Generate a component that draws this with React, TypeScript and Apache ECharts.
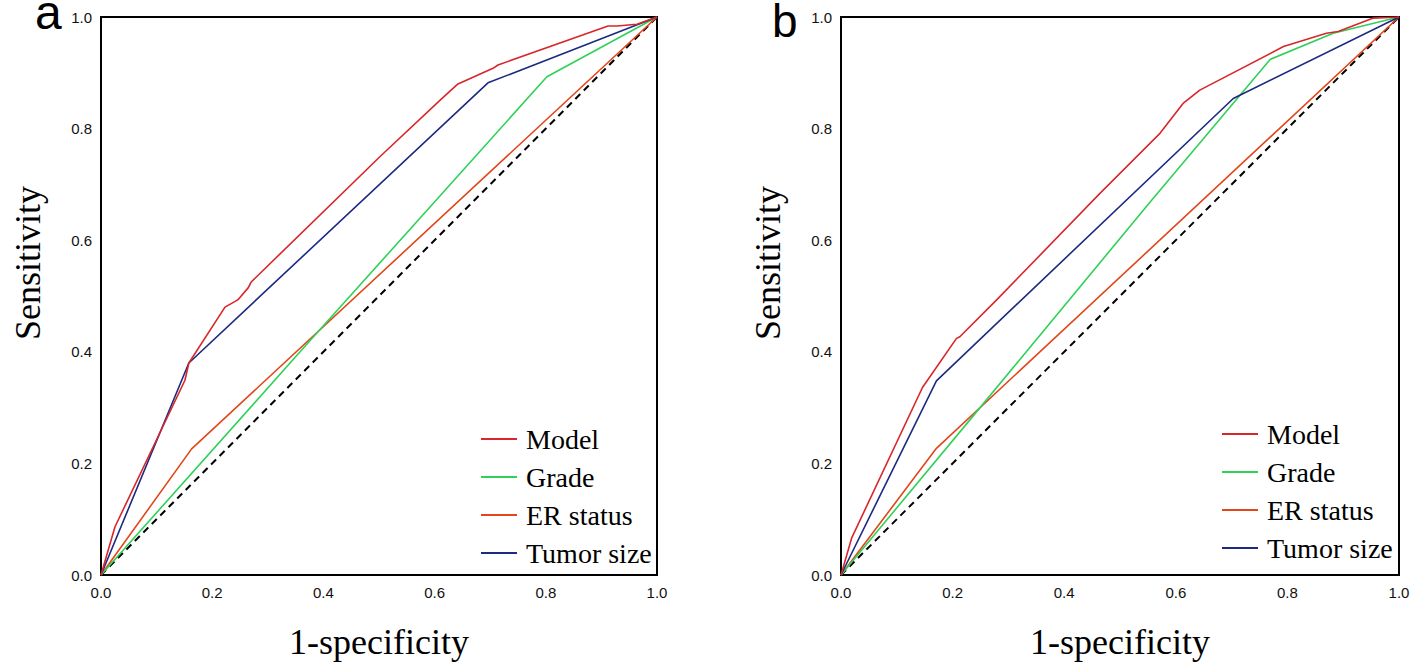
import React, { useEffect, useRef } from "react";
import * as echarts from "echarts";

// Panel a (ROC curves)
const fprAModel = [0, 0.025, 0.151, 0.158, 0.223, 0.246, 0.265, 0.27, 0.502, 0.61, 0.642, 0.705, 0.714, 0.912, 0.928, 0.964, 1];
const tprAModel = [0, 0.086, 0.349, 0.38, 0.48, 0.493, 0.515, 0.525, 0.75, 0.851, 0.88, 0.908, 0.914, 0.984, 0.984, 0.987, 1];
const fprAGrade = [0, 0.358, 0.802, 1];
const tprAGrade = [0, 0.4, 0.893, 1];
const fprAER = [0, 0.163, 1];
const tprAER = [0, 0.226, 1];
const fprATumor = [0, 0.158, 0.696, 1];
const tprATumor = [0, 0.38, 0.882, 1];

// Panel b (ROC curves)
const fprBModel = [0, 0.019, 0.146, 0.207, 0.213, 0.279, 0.464, 0.572, 0.613, 0.643, 0.793, 0.87, 0.891, 0.954, 1];
const tprBModel = [0, 0.066, 0.336, 0.424, 0.427, 0.493, 0.684, 0.792, 0.845, 0.869, 0.947, 0.971, 0.974, 0.998, 1];
const fprBGrade = [0, 0.231, 0.557, 0.769, 0.882, 1];
const tprBGrade = [0, 0.278, 0.672, 0.924, 0.971, 1];
const fprBER = [0, 0.171, 1];
const tprBER = [0, 0.227, 1];
const fprBTumor = [0, 0.171, 0.703, 1];
const tprBTumor = [0, 0.348, 0.854, 1];

const diagX = [0, 1];
const diagY = [0, 1];

const seriesNames = ["Model", "Grade", "ER status", "Tumor size"];
const seriesColors = ["#d8262a", "#2fd158", "#e2461a", "#1c2a82"];
const panelLetters = ["a", "b"];
const xTitle = "1-specificity";
const yTitle = "Sensitivity";

const zip = (xs: number[], ys: number[]) => xs.map((x, i) => [x, ys[i]]);

const SERIF = "'Liberation Serif', 'Times New Roman', serif";
const SANS = "'Liberation Sans', Arial, sans-serif";

export default function App() {
  const ref = useRef<HTMLDivElement>(null);

  useEffect(() => {
    if (!ref.current) return;
    const chart = echarts.init(ref.current, undefined, { renderer: "svg" });

    const grids = [
      { left: 101, top: 17, width: 556, height: 558 },
      { left: 841, top: 17, width: 558, height: 558 },
    ];

    const axisCommon = {
      type: "value" as const,
      min: 0,
      max: 1,
      interval: 0.2,
      axisLine: { show: false },
      axisTick: { show: false },
      splitLine: { show: false },
    };

    const panelData = [
      [zip(fprAModel, tprAModel), zip(fprAGrade, tprAGrade), zip(fprAER, tprAER), zip(fprATumor, tprATumor)],
      [zip(fprBModel, tprBModel), zip(fprBGrade, tprBGrade), zip(fprBER, tprBER), zip(fprBTumor, tprBTumor)],
    ];

    const series: any[] = [];
    panelData.forEach((curves, p) => {
      series.push({
        type: "line",
        name: "diag",
        xAxisIndex: p,
        yAxisIndex: p,
        data: zip(diagX, diagY),
        showSymbol: false,
        silent: true,
        lineStyle: { color: "#000", width: 2, type: [7, 5] },
        z: 1,
      });
      const order = [2, 1, 3, 0];
      order.forEach((i) => {
        series.push({
          type: "line",
          name: seriesNames[i],
          xAxisIndex: p,
          yAxisIndex: p,
          data: curves[i],
          showSymbol: false,
          color: seriesColors[i],
          lineStyle: { color: seriesColors[i], width: 1.6 },
          z: 2 + (i === 0 ? 3 : i === 3 ? 2 : 1),
        });
      });
    });

    const legendCommon = {
      orient: "vertical" as const,
      data: seriesNames,
      icon: "rect",
      itemWidth: 36,
      itemHeight: 2,
      itemGap: 10,
      selectedMode: false,
      textStyle: {
        fontFamily: SERIF,
        fontSize: 28,
        color: "#000",
        lineHeight: 28,
        padding: [0, 0, 0, 4],
      },
    };

    const graphics: any[] = [
      {
        type: "text",
        left: 35,
        top: -12,
        style: { text: panelLetters[0], font: `48px ${SANS}`, fill: "#000" },
      },
      {
        type: "text",
        left: 772,
        top: -2,
        style: { text: panelLetters[1], font: `46px ${SANS}`, lineHeight: 44, fill: "#000" },
      },
    ];
    grids.forEach((g) => {
      graphics.push({
        type: "text",
        x: g.left - 73,
        y: 263,
        rotation: Math.PI / 2,
        style: {
          text: yTitle,
          font: `36px ${SERIF}`,
          fill: "#000",
          align: "center",
          verticalAlign: "middle",
        },
      });
      graphics.push({
        type: "text",
        x: g.left + g.width / 2,
        y: 642,
        style: {
          text: xTitle,
          font: `36px ${SERIF}`,
          fill: "#000",
          align: "center",
          verticalAlign: "middle",
        },
      });
    });

    chart.setOption({
      animation: false,
      backgroundColor: "#fff",
      grid: grids.map((g) => ({
        ...g,
        show: true,
        borderColor: "#000",
        borderWidth: 2,
        backgroundColor: "transparent",
      })),
      xAxis: grids.map((_, i) => ({
        ...axisCommon,
        gridIndex: i,
        axisLabel: {
          fontFamily: SANS,
          fontSize: 15,
          color: "#111",
          margin: 10,
          formatter: (v: number) => v.toFixed(1),
        },
      })),
      yAxis: grids.map((_, i) => ({
        ...axisCommon,
        gridIndex: i,
        axisLabel: {
          fontFamily: SANS,
          fontSize: 15,
          color: "#111",
          margin: 9,
          padding: [8, 0, 0, 0],
          formatter: (v: number) => v.toFixed(1),
        },
      })),
      legend: [
        { ...legendCommon, left: 476, top: 420 },
        { ...legendCommon, left: 1217, top: 415 },
      ],
      graphic: graphics,
      series,
    });

    return () => chart.dispose();
  }, []);

  return (
    <div
      ref={ref}
      style={{ position: "fixed", left: 0, top: 0, width: 1418, height: 669 }}
    />
  );
}
